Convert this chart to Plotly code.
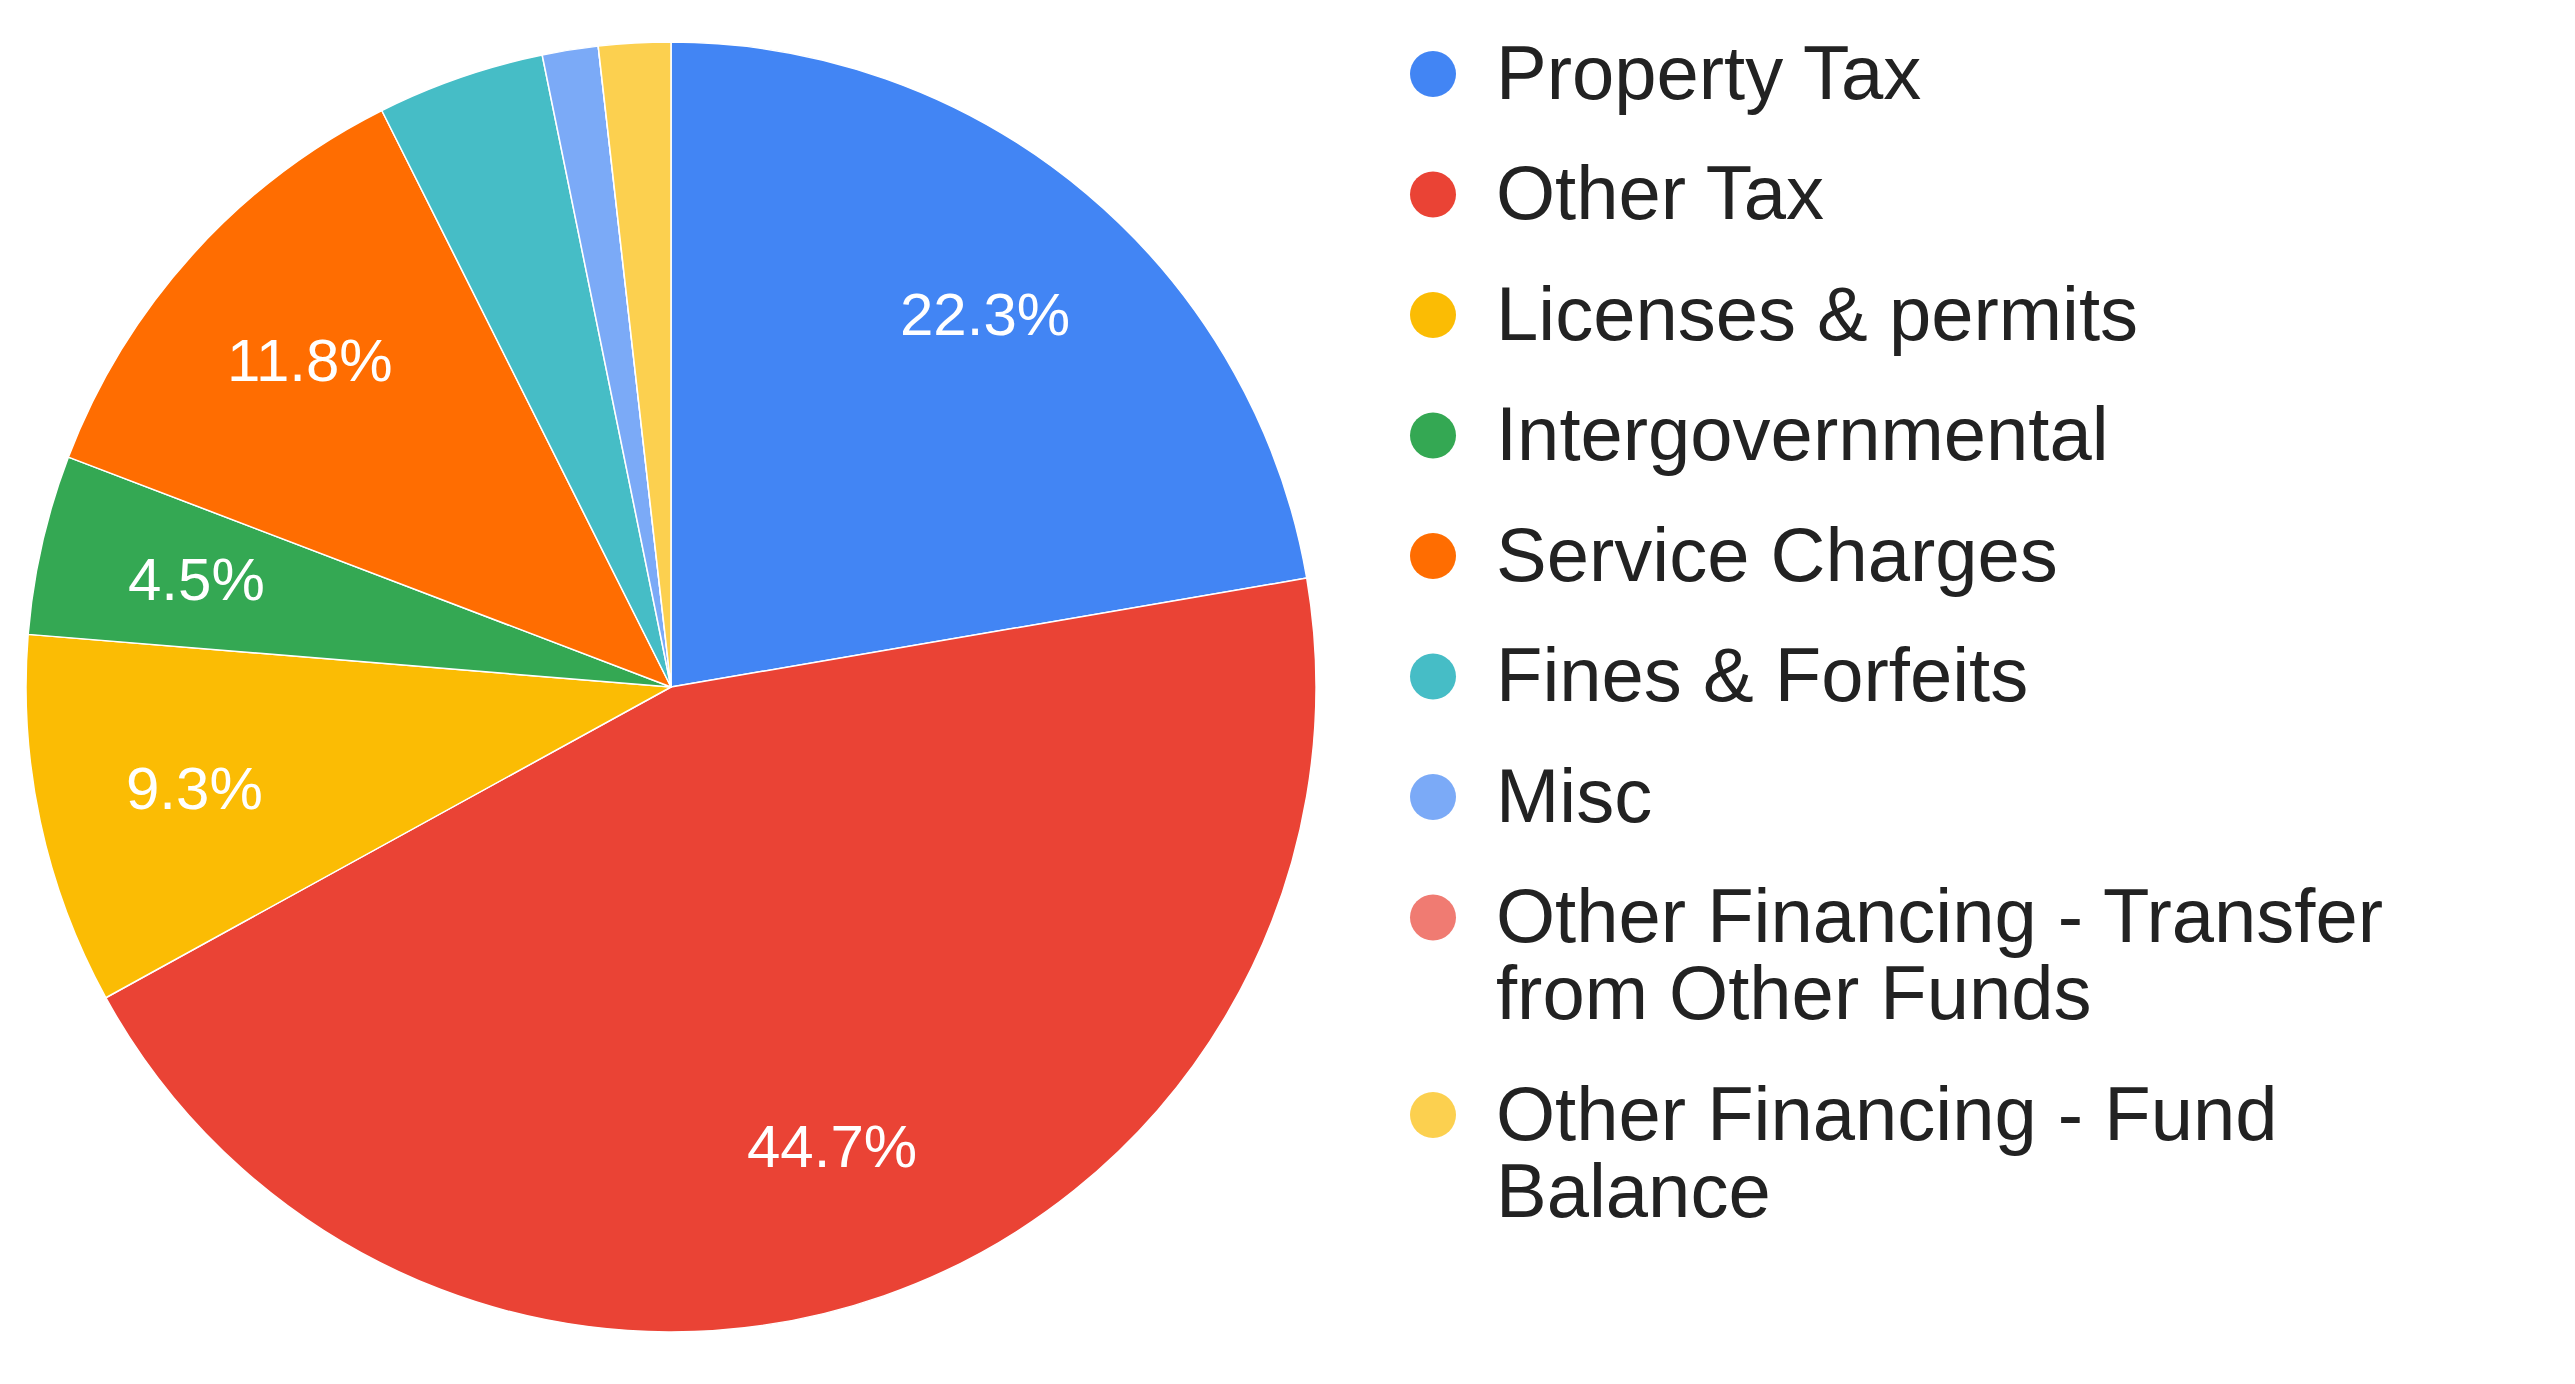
import math
import textwrap
import plotly.graph_objects as go

# ---- data ----
labels = [
    "Property Tax",
    "Other Tax",
    "Licenses & permits",
    "Intergovernmental",
    "Service Charges",
    "Fines & Forfeits",
    "Misc",
    "Other Financing - Transfer from Other Funds",
    "Other Financing - Fund Balance",
]
values = [22.3, 44.7, 9.3, 4.5, 11.8, 4.2, 1.4, 0.0, 1.8]
colors = ["#4285F4", "#EA4335", "#FBBC04", "#34A853", "#FF6D01",
          "#46BDC6", "#7BAAF7", "#F07B72", "#FCD04F"]

# ---- layout constants (pixels) ----
W, H = 2575, 1384
PIE_L, PIE_R, PIE_T, PIE_B = 24, 1318, 42, 1332
CX, CY = (PIE_L + PIE_R) / 2, (PIE_T + PIE_B) / 2
RAD = min(PIE_R - PIE_L, PIE_B - PIE_T) / 2
LABEL_FRAC = 0.755
LABEL_MIN_PCT = 4.5
FONT = "Liberation Sans, Arial, sans-serif"
TEXT_COLOR = "#222222"

LEG_MARK_X, LEG_TEXT_X = 1433, 1494
LEG_Y0, LEG_STEP, LEG_LINE = 74, 120.5, 77
LEG_MARK_R = 23
LEG_FONT = 76


def px(x):
    return x / W


def py(y):
    return 1 - y / H


fig = go.Figure(go.Pie(
    labels=labels,
    values=values,
    marker=dict(colors=colors, line=dict(color="white", width=1.5)),
    sort=False,
    direction="clockwise",
    rotation=0,
    textinfo="none",
    hoverinfo="label+percent",
    domain=dict(x=[px(PIE_L), px(PIE_R)], y=[py(PIE_B), py(PIE_T)]),
    showlegend=False,
))

annotations = []
shapes = []

# slice percentage labels (placed along each slice bisector)
total = sum(values)
cum = 0.0
for v in values:
    pct = v / total * 100
    mid = (cum + v / 2) / total * 2 * math.pi
    cum += v
    if pct < LABEL_MIN_PCT:
        continue
    x = CX + LABEL_FRAC * RAD * math.sin(mid)
    y = CY - LABEL_FRAC * RAD * math.cos(mid)
    annotations.append(dict(
        x=px(x), y=py(y), xref="paper", yref="paper",
        text=f"{pct:.1f}%", showarrow=False,
        xanchor="center", yanchor="middle",
        font=dict(family=FONT, size=60, color="white"),
    ))

# legend
ycur = LEG_Y0
for lab, col in zip(labels, colors):
    lines = textwrap.wrap(lab, 26)
    shapes.append(dict(
        type="circle", xref="paper", yref="paper",
        x0=px(LEG_MARK_X - LEG_MARK_R), x1=px(LEG_MARK_X + LEG_MARK_R),
        y0=py(ycur + LEG_MARK_R), y1=py(ycur - LEG_MARK_R),
        fillcolor=col, line=dict(width=0),
    ))
    for i, ln in enumerate(lines):
        annotations.append(dict(
            x=px(LEG_TEXT_X), y=py(ycur + i * LEG_LINE - 2),
            xref="paper", yref="paper",
            text=ln, showarrow=False,
            xanchor="left", yanchor="middle",
            font=dict(family=FONT, size=LEG_FONT, color=TEXT_COLOR),
        ))
    ycur += LEG_STEP + (len(lines) - 1) * LEG_LINE

fig.update_layout(
    width=W, height=H,
    margin=dict(l=0, r=0, t=0, b=0),
    paper_bgcolor="white",
    plot_bgcolor="white",
    annotations=annotations,
    shapes=shapes,
)

fig.write_html("out.html", config={"displayModeBar": False},
               post_script="document.body.style.margin='0';")
